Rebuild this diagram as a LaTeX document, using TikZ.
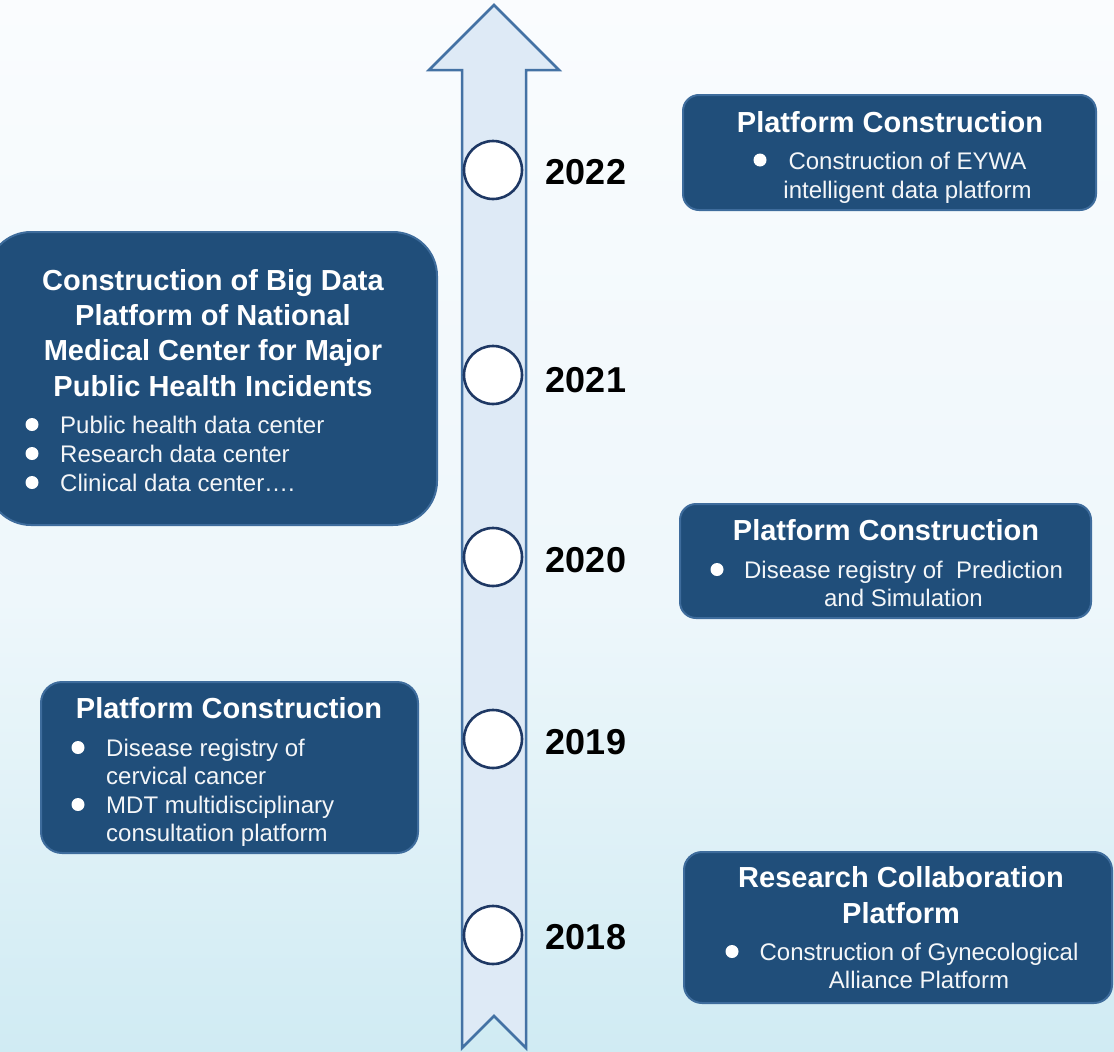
\documentclass[tikz,border=0pt]{standalone}
\usepackage{fontspec}
\setmainfont{Liberation Sans}
\definecolor{boxblue}{RGB}{32,78,122}
\definecolor{boxedge}{RGB}{62,108,156}
\definecolor{arrfill}{RGB}{222,234,246}
\definecolor{arredge}{RGB}{68,114,164}
\definecolor{circedge}{RGB}{30,56,100}
\definecolor{bgtop}{RGB}{250,252,254}
\definecolor{bgmid}{RGB}{238,247,251}
\definecolor{bgbot}{RGB}{208,235,243}
\definecolor{txtw}{RGB}{244,246,248}
\tikzset{
  boxnode/.style={fill=boxblue, draw=boxedge, line width=2pt, inner sep=0pt, rounded corners=16pt},
  ttl/.style={text=white, font=\fontsize{29}{35}\selectfont\bfseries, anchor=base, inner sep=0pt},
  bdy/.style={text=txtw, font=\fontsize{24}{29}\selectfont, anchor=base, inner sep=0pt},
  bdyl/.style={bdy, anchor=base west},
  yr/.style={text=black, font=\fontsize{36}{40}\selectfont\bfseries, anchor=base, inner sep=0pt},
  yrcirc/.style={circle, fill=white, draw=circedge, line width=2.6pt, minimum size=58pt, inner sep=0pt},
  bul/.style={fill=white}
}
\begin{document}
\begin{tikzpicture}[x=1pt,y=-1pt]
\useasboundingbox (0,0) rectangle (1114,1052);
% background
\shade[top color=bgtop, bottom color=bgmid] (0,0) rectangle (1114,600);
\shade[top color=bgmid, bottom color=bgbot] (0,600) rectangle (1114,1052);

% timeline arrow
\draw[fill=arrfill, draw=arredge, line width=2.5pt, line join=miter]
  (494,5) -- (559,70) -- (526,70) -- (526,1048) -- (494,1016) -- (462,1048)
  -- (462,70) -- (429,70) -- cycle;

% year circles
\node[yrcirc] (c22) at (493,170) {};
\node[yrcirc] (c21) at (493,375) {};
\node[yrcirc] (c20) at (493,557) {};
\node[yrcirc] (c19) at (493,739) {};
\node[yrcirc] (c18) at (493,935) {};

% year labels
\node[yr] (y22) at (586,184) {2022};
\node[yr] (y21) at (586,392) {2021};
\node[yr] (y20) at (586,572) {2020};
\node[yr] (y19) at (586,754) {2019};
\node[yr] (y18) at (586,949) {2018};

% ---- 2022 box
\node[boxnode, minimum width=413pt, minimum height=115pt] (b22) at (889.5,152.5) {};
\node[ttl] (t22) at (890,132) {Platform Construction};
\fill[bul] (760,160) circle (6.5pt);
\node[bdy] (l22a) at (907.5,169) {Construction of EYWA};
\node[bdy] (l22b) at (907.5,198) {intelligent data platform};

% ---- 2021 big box
\node[boxnode, rounded corners=44pt, minimum width=450pt, minimum height=293pt] (b21) at (212,378.5) {};
\node[ttl] (t21a) at (213,290) {Construction of Big Data};
\node[ttl] (t21b) at (213,325) {Platform of National};
\node[ttl] (t21c) at (213,360) {Medical Center for Major};
\node[ttl] (t21d) at (213,396) {Public Health Incidents};
\fill[bul] (32,424.5) circle (6.5pt);
\fill[bul] (32,453.5) circle (6.5pt);
\fill[bul] (32,482.5) circle (6.5pt);
\node[bdyl] (l21a) at (60,433) {Public health data center};
\node[bdyl] (l21b) at (60,462) {Research data center};
\node[bdyl] (l21c) at (60,491) {Clinical data center….};

% ---- 2020 box
\node[boxnode, minimum width=411pt, minimum height=114pt] (b20) at (885.5,561) {};
\node[ttl] (t20) at (886,540) {Platform Construction};
\fill[bul] (717,569.5) circle (6.5pt);
\node[bdy] (l20a) at (903.5,578) {Disease registry of~ Prediction};
\node[bdy] (l20b) at (903.5,606) {and Simulation};

% ---- 2019 box
\node[boxnode, rounded corners=21pt, minimum width=377pt, minimum height=171pt] (b19) at (229.5,767.5) {};
\node[ttl] (t19) at (229,718) {Platform Construction};
\fill[bul] (78,747.5) circle (6.5pt);
\fill[bul] (78,804.5) circle (6.5pt);
\node[bdyl] (l19a) at (106,756) {Disease registry of};
\node[bdyl] (l19b) at (106,784) {cervical cancer};
\node[bdyl] (l19c) at (106,813) {MDT multidisciplinary};
\node[bdyl] (l19d) at (106,841) {consultation platform};

% ---- 2018 box
\node[boxnode, rounded corners=18pt, minimum width=428pt, minimum height=151pt] (b18) at (898,927.5) {};
\node[ttl] (t18a) at (901,887) {Research Collaboration};
\node[ttl] (t18b) at (901,923) {Platform};
\fill[bul] (732,951.5) circle (6.5pt);
\node[bdy] (l18a) at (919,960) {Construction of Gynecological};
\node[bdy] (l18b) at (919,988) {Alliance Platform};
\end{tikzpicture}
\end{document}
